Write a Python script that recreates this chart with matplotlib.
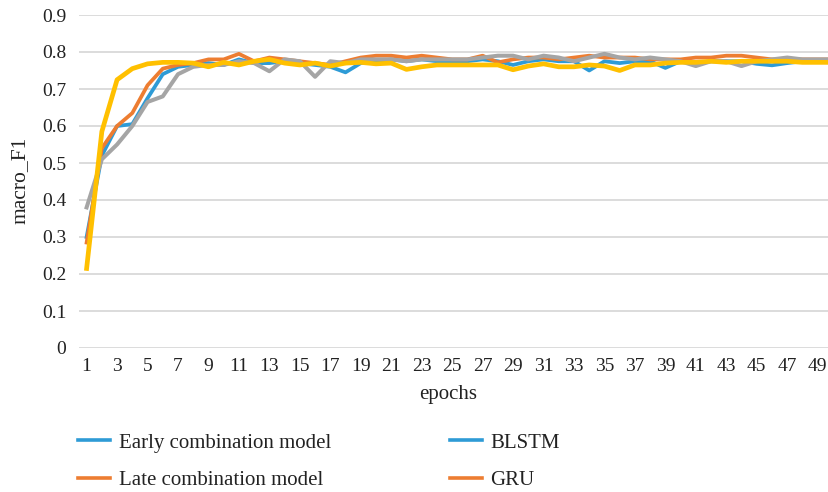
import matplotlib.pyplot as plt
from matplotlib.lines import Line2D

plt.rcParams['font.family'] = ['Liberation Serif', 'DejaVu Serif']

# Datos: macro_F1 por época
epochs = list(range(1, 51))
early = [0.30, 0.52, 0.60, 0.605, 0.675, 0.74, 0.76, 0.765, 0.77, 0.765,
         0.78, 0.77, 0.77, 0.775, 0.77, 0.765, 0.76, 0.745, 0.77, 0.775,
         0.78, 0.775, 0.78, 0.775, 0.775, 0.775, 0.78, 0.775, 0.765, 0.775,
         0.78, 0.775, 0.775, 0.75, 0.775, 0.77, 0.775, 0.775, 0.757, 0.775,
         0.77, 0.775, 0.775, 0.775, 0.768, 0.764, 0.77, 0.775, 0.775, 0.775]
late = [0.285, 0.54, 0.60, 0.635, 0.71, 0.755, 0.765, 0.77, 0.78, 0.78,
        0.795, 0.775, 0.785, 0.78, 0.775, 0.77, 0.765, 0.775, 0.785, 0.79,
        0.79, 0.785, 0.79, 0.785, 0.78, 0.78, 0.79, 0.772, 0.78, 0.785,
        0.785, 0.78, 0.785, 0.79, 0.785, 0.785, 0.785, 0.78, 0.78, 0.78,
        0.785, 0.785, 0.79, 0.79, 0.785, 0.78, 0.78, 0.78, 0.78, 0.78]
blstm = [0.38, 0.51, 0.55, 0.60, 0.665, 0.68, 0.74, 0.76, 0.765, 0.765,
         0.775, 0.77, 0.748, 0.78, 0.775, 0.733, 0.775, 0.77, 0.78, 0.78,
         0.78, 0.775, 0.78, 0.78, 0.78, 0.78, 0.785, 0.79, 0.79, 0.78,
         0.79, 0.785, 0.775, 0.785, 0.795, 0.785, 0.78, 0.785, 0.78, 0.775,
         0.762, 0.775, 0.775, 0.762, 0.775, 0.78, 0.785, 0.78, 0.78, 0.78]
gru = [0.215, 0.585, 0.725, 0.755, 0.768, 0.772, 0.772, 0.77, 0.76, 0.772,
       0.765, 0.775, 0.78, 0.77, 0.765, 0.77, 0.762, 0.77, 0.772, 0.768,
       0.77, 0.753, 0.76, 0.765, 0.765, 0.765, 0.765, 0.765, 0.752, 0.762,
       0.768, 0.76, 0.76, 0.765, 0.762, 0.75, 0.765, 0.765, 0.77, 0.772,
       0.772, 0.775, 0.772, 0.775, 0.775, 0.775, 0.775, 0.772, 0.772, 0.772]

c_blue = '#2E9BD6'
c_orange = '#ED7D31'
c_gray = '#A5A5A5'
c_yellow = '#FFC000'

W, H = 829, 492
fig = plt.figure(figsize=(W / 100, H / 100), dpi=100)
ax = fig.add_axes([79 / W, 1 - 348 / H, 1 - 79 / W, (348 - 15) / H])

ax.plot(epochs, early, color=c_blue, lw=2.7, solid_joinstyle='round')
ax.plot(epochs, late, color=c_orange, lw=2.7, solid_joinstyle='round')
ax.plot(epochs, blstm, color=c_gray, lw=2.9, solid_joinstyle='round')
ax.plot(epochs, gru, color=c_yellow, lw=3.4, solid_joinstyle='round')

ax.set_xlim(0.5, 0.5 + (W - 79) / 15.23)
ax.set_ylim(0, 0.9)
ax.set_yticks([i / 10 for i in range(10)])
ax.set_yticklabels(['0'] + [f'{i / 10:.1f}' for i in range(1, 10)])
ax.set_xticks(epochs[::2])
ax.set_xticklabels([str(e) for e in epochs[::2]])
ax.grid(axis='y', color='#D9D9D9', lw=1.3)
ax.set_axisbelow(True)
for s in ax.spines.values():
    s.set_visible(False)
ax.tick_params(axis='both', length=0, labelsize=14, colors='#222222')
ax.tick_params(axis='y', pad=9)
ax.tick_params(axis='x', pad=7)

fig.text(20 / W, 1 - 180 / H, 'macro_F1', rotation=90, ha='center', va='center',
         fontsize=15.5, color='#222222')
fig.text(448 / W, 1 - 395 / H, 'epochs', ha='center', va='center',
         fontsize=15, color='#222222')

# Leyenda (tal como aparece en la figura original)
kw = dict(frameon=False, fontsize=15, handlelength=1.55, handletextpad=0.4,
          labelspacing=0.85, borderpad=0, borderaxespad=0, loc='upper left')
h1 = [Line2D([], [], color=c_blue, lw=2.6), Line2D([], [], color=c_orange, lw=2.6)]
leg1 = fig.legend(h1, ['Early combination model', 'Late combination model'],
                  bbox_to_anchor=(78 / W, 1 - 433 / H), **kw)
h2 = [Line2D([], [], color=c_blue, lw=2.6), Line2D([], [], color=c_orange, lw=2.6)]
leg2 = fig.legend(h2, ['BLSTM', 'GRU'], bbox_to_anchor=(450 / W, 1 - 433 / H), **kw)
for leg in (leg1, leg2):
    for t in leg.get_texts():
        t.set_color('#222222')

fig.savefig('out.png', dpi=100)
